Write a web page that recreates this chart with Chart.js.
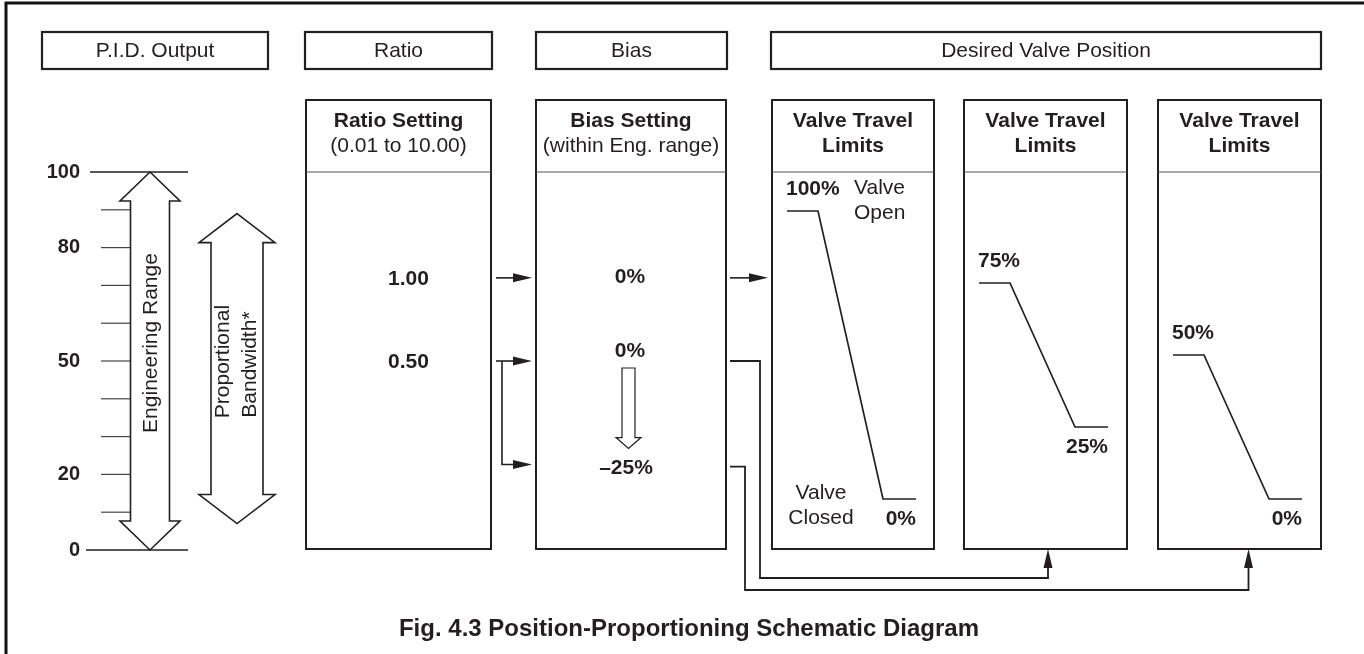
<!DOCTYPE html>
<html>
<head>
<meta charset="utf-8">
<script src="https://cdn.jsdelivr.net/npm/chart.js@4.4.1/dist/chart.umd.min.js"></script>
<style>
html,body{margin:0;padding:0;background:#fff;overflow:hidden;}
#wrap{width:1364px;height:654px;}
</style>
</head>
<body>
<div id="wrap"><canvas id="c" width="1364" height="654"></canvas></div>
<script>
// ---- data ----
const headerLabels = ['P.I.D. Output', 'Ratio', 'Bias', 'Desired Valve Position'];
const panelTitles = [
  ['Ratio Setting', '(0.01 to 10.00)'],
  ['Bias Setting', '(within Eng. range)'],
  ['Valve Travel', 'Limits'],
  ['Valve Travel', 'Limits'],
  ['Valve Travel', 'Limits']
];
const pidTickLabels = [0, 20, 50, 80, 100];
const pidMinorTicks = [10, 20, 30, 40, 50, 60, 70, 80, 90];
const engineeringRange = [0, 100];
const proportionalBand = [7, 89];
const ratioValues = [1.00, 0.50];
const biasValues = [0, 0, -25];
const valveHigh = [100, 75, 50];
const valveLow = [0, 25, 0];
const caption = 'Fig. 4.3 Position-Proportioning Schematic Diagram';

// ---- layout (pixels) ----
const INK = '#231f20';
const FONT = "'Liberation Sans', Arial, sans-serif";
const headerBoxes = [[42, 268], [305, 492], [536, 727], [771, 1321]];
const panels = [[306, 491], [536, 726], [772, 934], [964, 1127], [1158, 1321]];
const valvePanelIdx = [2, 3, 4];
const lineOffsets = [15, 46, 111, 144];
const rowLevels = [72, 50, 22.6]; // PID-output levels of the three signal rows

const datasets = valveHigh.map((hi, i) => {
  const left = panels[valvePanelIdx[i]][0];
  const lo = valveLow[i];
  return {
    label: 'Valve ' + (i + 1),
    yAxisID: 'v',
    data: [
      {x: left + lineOffsets[0], y: hi},
      {x: left + lineOffsets[1], y: hi},
      {x: left + lineOffsets[2], y: lo},
      {x: left + lineOffsets[3], y: lo}
    ],
    borderColor: INK,
    borderWidth: 1.7,
    pointRadius: 0,
    tension: 0,
    fill: false
  };
});

function fmtBias(v) { return (v < 0 ? '\u2013' + Math.abs(v) : String(v)) + '%'; }

const schematic = {
  id: 'schematic',
  beforeDraw(chart) {
    const ctx = chart.ctx;
    ctx.save();
    ctx.fillStyle = '#fff';
    ctx.fillRect(0, 0, chart.width, chart.height);
    ctx.restore();
  },
  beforeDatasetsDraw(chart) {
    const ctx = chart.ctx;
    const X = v => chart.scales.x.getPixelForValue(v);
    const Y = v => chart.scales.y.getPixelForValue(v);
    const V = v => chart.scales.v.getPixelForValue(v);
    ctx.save();
    ctx.lineJoin = 'miter';
    ctx.strokeStyle = INK;
    ctx.fillStyle = INK;

    function text(s, x, y, size, bold, align) {
      ctx.font = (bold ? 'bold ' : '') + size + 'px ' + FONT;
      ctx.textAlign = align || 'center';
      ctx.textBaseline = 'middle';
      ctx.fillStyle = INK;
      ctx.fillText(s, x, y);
    }
    function line(pts, w, col) {
      ctx.beginPath();
      ctx.moveTo(pts[0][0], pts[0][1]);
      for (let i = 1; i < pts.length; i++) ctx.lineTo(pts[i][0], pts[i][1]);
      ctx.lineWidth = w;
      ctx.strokeStyle = col || INK;
      ctx.stroke();
    }
    function headR(x, y) {
      ctx.beginPath(); ctx.moveTo(x, y); ctx.lineTo(x - 19, y - 4.5); ctx.lineTo(x - 19, y + 4.5); ctx.closePath();
      ctx.fillStyle = INK; ctx.fill();
    }
    function headU(x, y) {
      ctx.beginPath(); ctx.moveTo(x, y); ctx.lineTo(x - 4.5, y + 19); ctx.lineTo(x + 4.5, y + 19); ctx.closePath();
      ctx.fillStyle = INK; ctx.fill();
    }

    // outer frame
    line([[X(6), 700], [X(6), 3], [X(1400), 3]], 3, '#111');

    // header boxes
    headerBoxes.forEach((b, i) => {
      ctx.lineWidth = 2.2; ctx.strokeStyle = INK;
      ctx.strokeRect(X(b[0]), 32, X(b[1]) - X(b[0]), 37);
      text(headerLabels[i], (X(b[0]) + X(b[1])) / 2, 51, 21, false);
    });

    // panels
    panels.forEach((p, i) => {
      const l = X(p[0]), r = X(p[1]);
      ctx.lineWidth = 2; ctx.strokeStyle = INK;
      ctx.strokeRect(l, 100, r - l, 449);
      line([[l, 172], [r, 172]], 1.1, '#555');
      const cx = (l + r) / 2;
      text(panelTitles[i][0], cx, 121, 21, true);
      text(panelTitles[i][1], cx, 146, 21, i >= 2);
    });

    // PID output axis
    pidMinorTicks.forEach(t => line([[X(101), Y(t)], [X(130), Y(t)]], 1.2, '#444'));
    line([[X(90), Y(100)], [X(188), Y(100)]], 1.6);
    line([[X(86), Y(0)], [X(188), Y(0)]], 1.6);
    pidTickLabels.forEach(t => text(String(t), X(80), Y(t), 20, true, 'right'));

    // double arrows
    function dblArrow(cx, yTop, yBot, hw, sw, hl) {
      ctx.beginPath();
      ctx.moveTo(cx, yTop);
      ctx.lineTo(cx + hw, yTop + hl);
      ctx.lineTo(cx + sw, yTop + hl);
      ctx.lineTo(cx + sw, yBot - hl);
      ctx.lineTo(cx + hw, yBot - hl);
      ctx.lineTo(cx, yBot);
      ctx.lineTo(cx - hw, yBot - hl);
      ctx.lineTo(cx - sw, yBot - hl);
      ctx.lineTo(cx - sw, yTop + hl);
      ctx.lineTo(cx - hw, yTop + hl);
      ctx.closePath();
      ctx.fillStyle = '#fff'; ctx.fill();
      ctx.lineWidth = 1.6; ctx.strokeStyle = INK; ctx.stroke();
    }
    dblArrow(X(150), Y(engineeringRange[1]), Y(engineeringRange[0]), 30, 19.5, 29);
    dblArrow(X(237), Y(proportionalBand[1]), Y(proportionalBand[0]), 38, 26, 29);

    function vtext(s, x, y, size) {
      ctx.save();
      ctx.translate(x, y);
      ctx.rotate(-Math.PI / 2);
      text(s, 0, 0, size, false);
      ctx.restore();
    }
    const engMid = (Y(engineeringRange[0]) + Y(engineeringRange[1])) / 2;
    vtext('Engineering Range', X(151), engMid - 18, 21);
    const pbMid = (Y(proportionalBand[0]) + Y(proportionalBand[1])) / 2;
    vtext('Proportional', X(223), pbMid - 7, 21);
    vtext('Bandwidth*', X(250), pbMid - 4, 21);

    // ratio values
    const rPanel = panels[0], bPanel = panels[1];
    const rCx = (X(rPanel[0]) + X(rPanel[1])) / 2 + 10;
    ratioValues.forEach((v, i) => text(v.toFixed(2), rCx, Y(rowLevels[i]) + 1, 21, true));

    // bias values
    const bCx = (X(bPanel[0]) + X(bPanel[1])) / 2 - 1;
    const biasTextOffset = [-1, -10, 4];
    biasValues.forEach((v, i) => text(fmtBias(v), bCx + (i === 2 ? -4 : 0), Y(rowLevels[i]) + biasTextOffset[i], 21, true));

    // hollow down arrow in bias panel
    {
      const cx = bCx - 1.5, top = Y(rowLevels[1]) + 7, base = Y(rowLevels[2]) - 27, tip = Y(rowLevels[2]) - 16;
      ctx.beginPath();
      ctx.moveTo(cx - 6.5, top); ctx.lineTo(cx + 6.5, top); ctx.lineTo(cx + 6.5, base);
      ctx.lineTo(cx + 12.5, base); ctx.lineTo(cx, tip); ctx.lineTo(cx - 12.5, base);
      ctx.lineTo(cx - 6.5, base); ctx.closePath();
      ctx.fillStyle = '#fff'; ctx.fill();
      ctx.lineWidth = 1.2; ctx.strokeStyle = INK; ctx.stroke();
    }

    // ratio -> bias arrows
    const rOut = X(rPanel[1]) + 5, bIn = X(bPanel[0]) - 4;
    line([[rOut, Y(rowLevels[0])], [bIn - 10, Y(rowLevels[0])]], 1.6); headR(bIn, Y(rowLevels[0]));
    line([[rOut, Y(rowLevels[1])], [bIn - 10, Y(rowLevels[1])]], 1.6); headR(bIn, Y(rowLevels[1]));
    line([[rOut + 6, Y(rowLevels[1])], [rOut + 6, Y(rowLevels[2])], [bIn - 10, Y(rowLevels[2])]], 1.6); headR(bIn, Y(rowLevels[2]));

    // bias -> valve
    const bOut = X(bPanel[1]) + 4;
    const v1 = panels[valvePanelIdx[0]], v2 = panels[valvePanelIdx[1]], v3 = panels[valvePanelIdx[2]];
    line([[bOut, Y(rowLevels[0])], [X(v1[0]) - 14, Y(rowLevels[0])]], 1.6); headR(X(v1[0]) - 4, Y(rowLevels[0]));
    const c2x = (X(v2[0]) + X(v2[1])) / 2 + 2.5;
    const c3x = (X(v3[0]) + X(v3[1])) / 2 + 9;
    line([[bOut, Y(rowLevels[1])], [X(760), Y(rowLevels[1])], [X(760), 578], [c2x, 578], [c2x, 559]], 1.8); headU(c2x, 549);
    line([[bOut, Y(rowLevels[2]) + 2], [X(745), Y(rowLevels[2]) + 2], [X(745), 590], [c3x, 590], [c3x, 559]], 1.8); headU(c3x, 549);

    // valve panel labels
    valveHigh.forEach((hi, i) => {
      const left = X(panels[valvePanelIdx[i]][0]);
      text(hi + '%', left + lineOffsets[0] - 1, V(hi) - 22, 21, true, 'left');
      text(valveLow[i] + '%', left + lineOffsets[3], V(valveLow[i]) + 20, 21, true, 'right');
    });
    const v1l = X(v1[0]);
    text('Valve', v1l + 82, 188, 21, false, 'left');
    text('Open', v1l + 82, 213, 21, false, 'left');
    text('Valve', v1l + 49, 493, 21, false, 'center');
    text('Closed', v1l + 49, 518, 21, false, 'center');

    // caption
    text(caption, X(689), 629, 24, true, 'center');

    ctx.restore();
  }
};

new Chart(document.getElementById('c'), {
  type: 'line',
  data: {datasets},
  options: {
    responsive: false,
    devicePixelRatio: 1,
    animation: false,
    parsing: true,
    layout: {padding: 0},
    plugins: {legend: {display: false}, tooltip: {enabled: false}},
    events: [],
    scales: {
      x: {type: 'linear', min: 0, max: 1364, display: false},
      y: {type: 'linear', min: -104 / 3.78, max: 550 / 3.78, display: false},
      v: {type: 'linear', min: -155 / 2.88, max: 499 / 2.88, display: false, position: 'right'}
    }
  },
  plugins: [schematic]
});
</script>
</body>
</html>
